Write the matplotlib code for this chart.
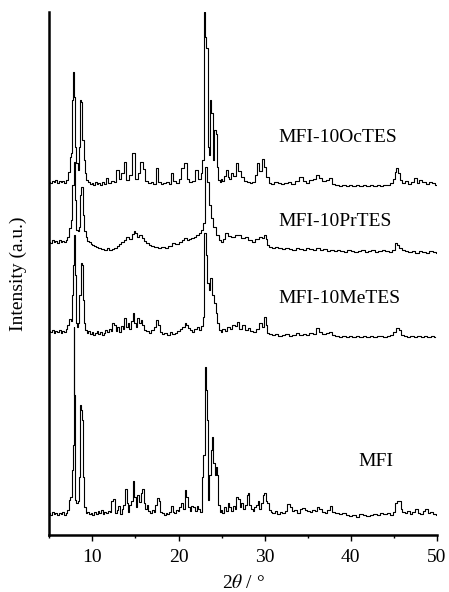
import matplotlib
matplotlib.use("Agg")
import matplotlib.pyplot as plt
from matplotlib.ticker import MultipleLocator, NullLocator

plt.rcParams['font.family'] = ['Liberation Serif', 'DejaVu Serif']
plt.rcParams['mathtext.fontset'] = 'stix'

# ---- data (2theta, intensity a.u. above each baseline) ----
mfi_x = [5.0, 5.2, 5.4, 5.6, 5.8, 6.0, 6.2, 6.4, 6.6, 6.8, 7.0, 7.2, 7.35, 7.5, 7.65, 7.75, 7.85, 7.95, 8.05, 8.2,
         8.35, 8.5, 8.65, 8.75, 8.85, 9.0, 9.15, 9.3, 9.5, 9.7, 9.9, 10.1, 10.3, 10.5, 10.7, 10.9, 11.1, 11.3, 11.5, 11.7,
         11.9, 12.1, 12.3, 12.5, 12.7, 12.9, 13.1, 13.3, 13.5, 13.7, 13.9, 14.05, 14.2, 14.4, 14.6, 14.8, 14.95, 15.1, 15.3, 15.5,
         15.7, 15.9, 16.05, 16.2, 16.4, 16.6, 16.8, 17.0, 17.2, 17.4, 17.6, 17.8, 18.0, 18.2, 18.4, 18.6, 18.8, 19.0, 19.2, 19.4,
         19.6, 19.8, 20.0, 20.2, 20.4, 20.6, 20.8, 21.0, 21.2, 21.4, 21.6, 21.8, 22.0, 22.2, 22.4, 22.6, 22.8, 22.95, 23.1, 23.25,
         23.4, 23.5, 23.65, 23.8, 23.95, 24.1, 24.25, 24.4, 24.55, 24.7, 24.85, 25.0, 25.2, 25.4, 25.6, 25.8, 26.0, 26.2, 26.4, 26.6,
         26.8, 27.0, 27.2, 27.4, 27.6, 27.8, 28.0, 28.15, 28.3, 28.5, 28.7, 28.9, 29.1, 29.3, 29.5, 29.7, 29.9, 30.05, 30.2, 30.4,
         30.6, 30.8, 31.0, 31.3, 31.6, 31.9, 32.2, 32.5, 32.8, 33.0, 33.3, 33.6, 33.9, 34.2, 34.5, 34.8, 35.1, 35.4, 35.7, 36.0,
         36.2, 36.5, 36.8, 37.1, 37.4, 37.7, 38.0, 38.4, 38.8, 39.2, 39.6, 40.0, 40.4, 40.8, 41.2, 41.6, 42.0, 42.4, 42.8, 43.2,
         43.6, 44.0, 44.4, 44.8, 45.0, 45.2, 45.45, 45.7, 45.9, 46.1, 46.4, 46.7, 47.0, 47.3, 47.6, 47.9, 48.2, 48.5, 48.8, 49.1,
         49.4, 49.7, 50.0]
mfi_y = [2, 0, 3, 1, 2, 0, 2, 1, 3, 0, 2, 5, 15, 18, 45, 70, 188, 120, 15, 12,
         14, 38, 110, 105, 95, 38, 8, 2, 3, 1, 2, 0, 3, 1, 4, 2, 5, 1, 3, 2,
         4, 3, 14, 16, 2, 5, 9, 1, 6, 10, 26, 12, 3, 10, 14, 34, 18, 8, 20, 13,
         22, 26, 12, 6, 10, 4, 2, 5, 3, 10, 17, 14, 3, 2, 0, 2, 1, 3, 9, 3,
         2, 5, 4, 8, 12, 6, 25, 18, 8, 4, 9, 8, 4, 9, 6, 3, 38, 60, 148, 125,
         95, 15, 40, 65, 78, 52, 40, 48, 40, 10, 3, 5, 2, 8, 4, 12, 8, 4, 9, 6,
         18, 16, 8, 12, 6, 10, 20, 22, 10, 6, 4, 8, 10, 14, 6, 12, 20, 22, 14, 12,
         5, 3, 2, 4, 1, 3, 2, 4, 11, 8, 4, 5, 2, 6, 7, 5, 4, 3, 5, 4,
         8, 6, 3, 2, 5, 9, 3, 2, 1, 2, 0, -1, 0, -2, 1, 0, -1, 0, 1, 0,
         2, 1, 2, 0, 3, 12, 14, 14, 6, 3, 2, 4, 1, 3, 6, 2, 1, 4, 6, 2,
         3, 1, 0]

metes_x = [5.0, 5.2, 5.4, 5.6, 5.8, 6.0, 6.2, 6.4, 6.6, 6.8, 7.0, 7.2, 7.4, 7.55, 7.7, 7.8, 7.9, 8.0, 8.1, 8.25,
           8.4, 8.55, 8.7, 8.8, 8.95, 9.1, 9.25, 9.4, 9.6, 9.8, 10.0, 10.2, 10.4, 10.6, 10.8, 11.0, 11.2, 11.4, 11.6, 11.8,
           12.0, 12.2, 12.4, 12.6, 12.8, 13.0, 13.2, 13.4, 13.6, 13.8, 14.0, 14.2, 14.4, 14.6, 14.8, 14.95, 15.1, 15.3, 15.5, 15.7,
           15.9, 16.1, 16.4, 16.7, 17.0, 17.3, 17.5, 17.7, 17.9, 18.2, 18.5, 18.8, 19.1, 19.4, 19.7, 20.0, 20.3, 20.6, 20.8, 21.0,
           21.2, 21.5, 21.7, 22.0, 22.3, 22.5, 22.7, 22.9, 23.1, 23.25, 23.4, 23.6, 23.8, 24.0, 24.2, 24.4, 24.6, 24.8, 25.0, 25.2,
           25.5, 25.8, 26.1, 26.4, 26.7, 26.9, 27.2, 27.5, 27.9, 28.2, 28.5, 28.8, 29.1, 29.5, 29.8, 30.0, 30.2, 30.4, 30.7, 31.0,
           31.4, 31.8, 32.2, 32.6, 33.0, 33.4, 33.8, 34.2, 34.6, 35.0, 35.4, 35.8, 36.2, 36.5, 36.9, 37.3, 37.6, 38.0, 38.4, 38.8,
           39.2, 39.6, 40.0, 40.4, 40.8, 41.2, 41.6, 42.0, 42.4, 42.8, 43.2, 43.6, 44.0, 44.4, 44.8, 45.1, 45.4, 45.7, 46.0, 46.3,
           46.7, 47.1, 47.5, 47.9, 48.3, 48.7, 49.1, 49.5, 49.8]
metes_y = [4, 3, 5, 2, 4, 3, 5, 2, 4, 3, 6, 10, 16, 14, 40, 70, 100, 60, 12, 8,
           12, 40, 72, 70, 35, 12, 5, 2, 4, 1, 3, 0, 2, 4, 1, 3, 0, 2, 5, 3,
           6, 4, 12, 10, 4, 8, 3, 9, 6, 17, 8, 12, 6, 14, 22, 12, 8, 17, 12, 15,
           10, 5, 4, 2, 5, 8, 15, 10, 3, 1, 2, 0, 3, 1, 2, 4, 6, 8, 12, 10,
           7, 5, 3, 6, 8, 5, 9, 18, 102, 80, 52, 45, 57, 40, 32, 22, 12, 5, 3, 6,
           4, 8, 6, 10, 9, 13, 6, 10, 5, 7, 4, 3, 6, 12, 8, 18, 10, 2, 1, 0,
           1, -1, 0, 1, -1, 0, 2, 0, 1, 0, 2, 1, 7, 3, 1, 2, 3, 0, -1, -2,
           -1, -2, -1, -2, -1, -2, -1, -2, -1, -2, -1, -1, -2, -1, 0, 3, 7, 5, 0, -1,
           -2, -1, -2, -1, -2, -1, -2, -1, -2]

prtes_x = [5.0, 5.2, 5.4, 5.6, 5.8, 6.0, 6.2, 6.4, 6.6, 6.8, 7.0, 7.2, 7.45, 7.6, 7.75, 7.9, 8.05, 8.2, 8.35, 8.5,
           8.65, 8.8, 8.95, 9.1, 9.3, 9.5, 9.7, 9.9, 10.1, 10.3, 10.5, 10.7, 10.9, 11.2, 11.5, 11.8, 12.1, 12.4, 12.7, 13.0,
           13.2, 13.5, 13.8, 14.1, 14.4, 14.7, 14.9, 15.1, 15.3, 15.6, 15.9, 16.1, 16.4, 16.7, 17.0, 17.4, 17.8, 18.2, 18.6, 19.0,
           19.4, 19.8, 20.2, 20.5, 20.8, 21.1, 21.3, 21.6, 21.9, 22.2, 22.5, 22.7, 22.9, 23.15, 23.4, 23.65, 23.9, 24.2, 24.5, 24.8,
           25.0, 25.3, 25.6, 25.9, 26.3, 26.7, 27.1, 27.5, 27.9, 28.3, 28.7, 29.1, 29.5, 29.8, 30.0, 30.2, 30.4, 30.7, 31.0, 31.4,
           31.8, 32.2, 32.6, 33.0, 33.4, 33.8, 34.2, 34.6, 35.0, 35.4, 35.8, 36.2, 36.6, 37.0, 37.4, 37.8, 38.2, 38.6, 39.0, 39.4,
           39.8, 40.2, 40.6, 41.0, 41.4, 41.8, 42.2, 42.6, 43.0, 43.4, 43.8, 44.2, 44.6, 45.0, 45.3, 45.5, 45.8, 46.1, 46.5, 46.9,
           47.3, 47.7, 48.1, 48.5, 48.9, 49.3, 49.7, 50.0]
prtes_y = [3, 2, 5, 3, 4, 2, 5, 3, 4, 3, 5, 8, 17, 25, 60, 83, 45, 15, 14, 18,
           50, 58, 30, 14, 8, 4, 3, 1, 0, -1, -2, -3, -3, -4, -5, -3, -5, -4, -3, -1,
           1, 3, 5, 8, 6, 11, 14, 12, 8, 10, 7, 4, 2, 0, -1, -2, -3, -2, -3, -1,
           2, 1, 3, 5, 7, 5, 6, 7, 8, 10, 12, 15, 22, 78, 63, 40, 27, 18, 10, 5,
           3, 6, 12, 9, 8, 10, 10, 7, 8, 5, 3, 6, 8, 7, 10, 6, 0, -2, -3, -2,
           -3, -4, -3, -4, -5, -3, -4, -5, -3, -4, -5, -3, -5, -4, -6, -5, -6, -5, -6, -7,
           -5, -6, -7, -6, -5, -7, -6, -5, -7, -6, -5, -6, -7, -5, 2, 0, -3, -5, -6, -7,
           -6, -8, -6, -7, -8, -6, -7, -8]

octes_x = [5.0, 5.2, 5.4, 5.6, 5.8, 6.0, 6.2, 6.4, 6.6, 6.8, 7.0, 7.3, 7.45, 7.6, 7.7, 7.85, 7.95, 8.05, 8.2, 8.35,
           8.5, 8.65, 8.75, 8.9, 9.05, 9.2, 9.4, 9.6, 9.8, 10.0, 10.2, 10.4, 10.6, 10.8, 11.0, 11.2, 11.4, 11.7, 12.0, 12.3,
           12.6, 12.9, 13.2, 13.5, 13.75, 14.1, 14.4, 14.7, 15.1, 15.4, 15.7, 16.0, 16.3, 16.6, 16.9, 17.2, 17.5, 17.8, 18.1, 18.4,
           18.7, 19.0, 19.2, 19.6, 19.9, 20.1, 20.4, 20.8, 21.1, 21.4, 21.7, 22.1, 22.5, 22.7, 22.85, 23.0, 23.15, 23.3, 23.45, 23.6,
           23.75, 23.9, 24.05, 24.25, 24.4, 24.55, 24.7, 24.85, 25.0, 25.2, 25.4, 25.6, 25.8, 26.0, 26.2, 26.5, 26.8, 27.1, 27.5, 27.8,
           28.1, 28.4, 28.7, 29.0, 29.2, 29.5, 29.8, 30.0, 30.3, 30.6, 30.9, 31.3, 31.7, 32.1, 32.5, 32.9, 33.3, 33.7, 34.2, 34.6,
           35.0, 35.4, 35.8, 36.1, 36.5, 36.9, 37.3, 37.6, 38.0, 38.4, 38.8, 39.2, 39.6, 40.0, 40.4, 40.8, 41.2, 41.6, 42.0, 42.4,
           42.8, 43.2, 43.6, 44.0, 44.4, 44.8, 45.0, 45.2, 45.4, 45.6, 45.8, 46.1, 46.5, 46.9, 47.2, 47.5, 47.8, 48.1, 48.5, 48.9,
           49.3, 49.6, 49.9]
octes_y = [3, 2, 4, 3, 5, 2, 4, 3, 4, 2, 5, 13, 28, 32, 85, 113, 88, 38, 22, 15,
           38, 85, 83, 45, 25, 12, 5, 3, 1, 2, 0, 3, 1, 2, 0, 3, 1, 7, 2, 4,
           3, 15, 6, 12, 23, 5, 10, 32, 6, 12, 23, 16, 4, 2, 3, 1, 17, 3, 1, 2,
           3, 1, 12, 4, 2, 6, 17, 22, 6, 3, 4, 15, 6, 12, 25, 173, 148, 137, 38, 30,
           85, 72, 25, 55, 51, 18, 5, 3, 6, 4, 9, 15, 8, 6, 12, 9, 22, 14, 8, 4,
           3, 2, 3, 10, 22, 14, 26, 18, 8, 2, 1, 3, 2, 1, 2, 3, 1, 4, 8, 4,
           2, 5, 6, 10, 7, 4, 5, 7, 1, 0, -1, 0, -1, 0, -1, 0, -1, 0, -1, 0,
           -1, 0, -1, 0, 0, 2, 6, 13, 17, 12, 5, 2, 4, 1, 3, 7, 2, 5, 3, 1,
           3, 2, 0]

offsets = [20, 200, 290, 350]
labels = ["MFI", "MFI-10MeTES", "MFI-10PrTES", "MFI-10OcTES"]
label_pos = [(40.85, 73), (31.55, 237), (31.55, 314), (31.55, 398)]

xticks = [10, 20, 30, 40, 50]

# ---- figure ----
fig = plt.figure(figsize=(4.49, 5.92), dpi=100)
ax = fig.add_axes([0.110, 0.0963, 0.863, 0.8834])

series = [(mfi_x, mfi_y), (metes_x, metes_y), (prtes_x, prtes_y), (octes_x, octes_y)]
for (xs, ys), off in zip(series, offsets):
    ax.plot(xs, [v + off for v in ys], color='black', lw=0.8, drawstyle='steps-mid')

for lab, (lx, ly) in zip(labels, label_pos):
    ax.text(lx, ly, lab, fontsize=14, ha='left', va='center', color='black')

ax.set_xlim(5, 50)
ax.set_ylim(0, 523)
ax.set_xticks(xticks)
ax.xaxis.set_minor_locator(MultipleLocator(5))
ax.yaxis.set_major_locator(NullLocator())
ax.tick_params(axis='x', which='major', direction='out', length=4, width=1, labelsize=14, pad=6)
ax.tick_params(axis='x', which='minor', direction='out', length=2.5, width=1)
for s in ['top', 'right']:
    ax.spines[s].set_visible(False)
ax.spines['left'].set_linewidth(1.8)
ax.spines['bottom'].set_linewidth(1.8)

ax.set_xlabel("2$\\theta$ / °", fontsize=14, labelpad=6)
ax.set_ylabel("Intensity (a.u.)", fontsize=14, labelpad=16)

fig.savefig("out.png", dpi=100)
